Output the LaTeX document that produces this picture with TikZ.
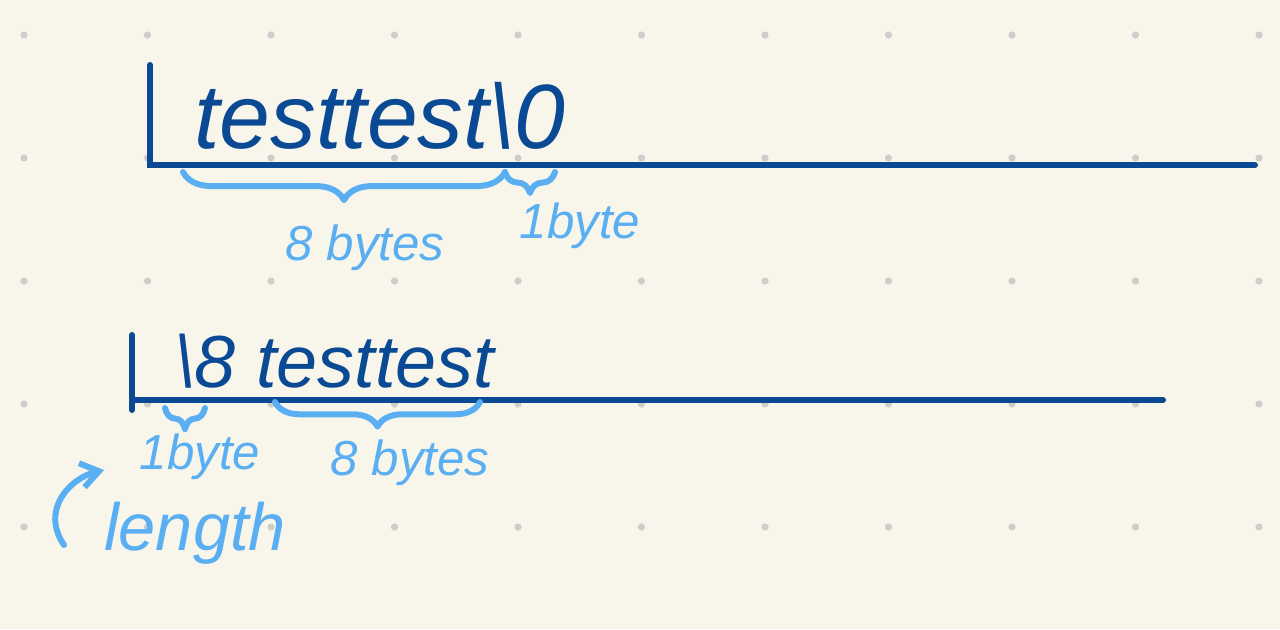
\documentclass[tikz,border=0pt]{standalone}
\usepackage{fontspec}
\setmainfont{Liberation Sans}
\usetikzlibrary{arrows.meta,positioning,decorations.pathreplacing}
\definecolor{Ink}{HTML}{0A4A94}
\definecolor{Sky}{HTML}{5AAEF2}
\definecolor{Paper}{HTML}{F8F6EB}
\definecolor{Dot}{HTML}{CDCDCB}

\begin{document}
\begin{tikzpicture}[
        x=0.02cm, y=-0.02cm,
        every node/.style={inner sep=0pt},
        ink/.style={draw=Ink, line width=3.4pt, line cap=round},
        brc/.style={draw=Sky, line width=3.4pt, line cap=round, line join=round,
            decorate, decoration={brace, mirror, amplitude=#1}},
        brc/.default=14pt,
        word/.style={text=Ink, font=\fontsize{52}{60}\selectfont\itshape},
        word2/.style={text=Ink, font=\fontsize{42}{50}\selectfont\itshape},
        note/.style={text=Sky, font=\fontsize{28}{34}\selectfont\itshape},
        arrow/.style={-{Straight Barb[length=10pt,width=14pt]}, draw=Sky, line width=3.4pt, line cap=round}
    ]
        % paper and dot grid
        \fill[Paper] (0,0) rectangle (1280,629);
        \useasboundingbox (0,0) rectangle (1280,629);
        \foreach \i in {0,...,10}
            \foreach \j in {0,...,4}
                \fill[Dot] (24+123.5*\i, 35+123*\j) circle (3.6);

        % null terminated string
        \coordinate (top1) at (150,65);
        \coordinate (org1) at (150,165);
        \coordinate (end1) at (1255,165);
        \draw[ink] (top1) -- (org1) -- (end1);
        \node[word, anchor=base west] (str1) at (194,148) {testtest\textbackslash0};

        \coordinate (b1a) at (183,172);
        \coordinate (b1b) at (505,172);
        \coordinate (b1c) at (555,172);
        \draw[brc=16pt] (b1a) -- (b1b);
        \draw[brc=12pt] (b1b) -- (b1c);
        \node[note] (n8a) at (365,248) {8 bytes};
        \node[note] (n1a) at (580,226) {1byte};

        % length prefixed string
        \coordinate (top2) at (132,335);
        \coordinate (org2) at (132,410);
        \coordinate (cor2) at (132,400);
        \coordinate (end2) at (1163,400);
        \draw[ink] (top2) -- (org2);
        \draw[ink] (cor2) -- (end2);
        \node[word2, anchor=base west] (str2) at (174,387) {\textbackslash8\ testtest};

        \coordinate (b2a) at (165,408);
        \coordinate (b2b) at (205,408);
        \coordinate (b3a) at (275,402);
        \coordinate (b3b) at (480,402);
        \draw[brc=12pt] (b2a) -- (b2b);
        \draw[brc=14pt] (b3a) -- (b3b);
        \node[note] (n1b) at (200,457) {1byte};
        \node[note] (n8b) at (410,463) {8 bytes};

        \node[text=Sky, font=\fontsize{38}{44}\selectfont\itshape] (len) at (195,533) {length};
        \coordinate (tail) at (64,545);
        \coordinate (tip) at (104,470);
        \draw[arrow] (tail) .. controls (40,510) and (70,478) .. (tip);
    \end{tikzpicture}
\end{document}
